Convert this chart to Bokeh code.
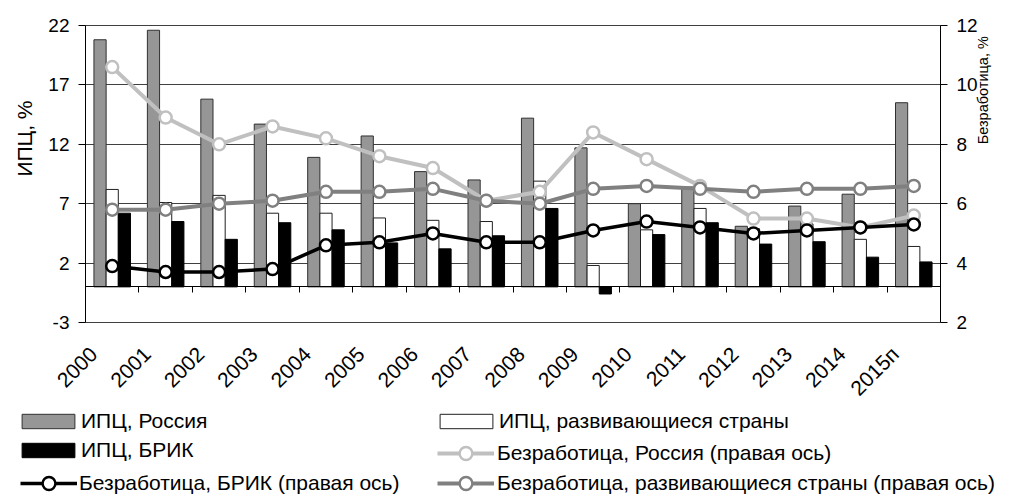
import numpy as np
from math import pi
from bokeh.plotting import figure
from bokeh.models import (ColumnDataSource, LinearAxis, Range1d, FixedTicker,
                          Legend, LegendItem, Title)
from bokeh.transform import dodge
from bokeh.embed import file_html
from bokeh.resources import INLINE

years = ["2000", "2001", "2002", "2003", "2004", "2005", "2006", "2007",
         "2008", "2009", "2010", "2011", "2012", "2013", "2014", "2015п"]

cpi_russia = [20.8, 21.6, 15.8, 13.7, 10.9, 12.7, 9.7, 9.0, 14.2, 11.7, 7.0, 8.4, 5.1, 6.8, 7.8, 15.5]
cpi_developing = [8.2, 7.1, 7.7, 6.2, 6.2, 5.8, 5.6, 5.5, 8.9, 1.8, 4.8, 6.6, 4.9, 5.3, 4.0, 3.4]
cpi_bric = [6.2, 5.5, 4.0, 5.4, 4.8, 3.7, 3.2, 4.3, 6.6, -0.6, 4.4, 5.4, 3.6, 3.8, 2.5, 2.1]

unemp_russia = [10.6, 8.9, 8.0, 8.6, 8.2, 7.6, 7.2, 6.1, 6.4, 8.4, 7.5, 6.6, 5.5, 5.5, 5.2, 5.6]
unemp_bric = [3.9, 3.7, 3.7, 3.8, 4.6, 4.7, 5.0, 4.7, 4.7, 5.1, 5.4, 5.2, 5.0, 5.1, 5.2, 5.3]
unemp_developing = [5.8, 5.8, 6.0, 6.1, 6.4, 6.4, 6.5, 6.1, 6.0, 6.5, 6.6, 6.5, 6.4, 6.5, 6.5, 6.6]

labels = ["ИПЦ, Россия", "ИПЦ, развивающиеся страны", "ИПЦ, БРИК",
          "Безработица, Россия (правая ось)", "Безработица, БРИК (правая ось)",
          "Безработица, развивающиеся страны (правая ось)"]

left_ticks = [-3, 2, 7, 12, 17, 22]
right_ticks = [2, 4, 6, 8, 10, 12]

FONT = "Liberation Sans"
n = len(years)
idx = np.arange(n)

src = ColumnDataSource(dict(x=idx, cr=cpi_russia, cd=cpi_developing, cb=cpi_bric,
                            ur=unemp_russia, ub=unemp_bric, ud=unemp_developing))

CHART_H = 410
chart = figure(width=1009, height=CHART_H, output_backend="svg", toolbar_location=None,
               x_range=Range1d(-0.5, n - 0.5), y_range=Range1d(-3, 22),
               min_border_left=83, min_border_right=69, min_border_top=25,
               min_border_bottom=88)
chart.extra_y_ranges = {"right": Range1d(2, 12)}
chart.outline_line_color = "#404040"
chart.background_fill_color = "white"
chart.border_fill_color = "white"

chart.xgrid.grid_line_color = None
chart.ygrid.grid_line_color = "#404040"
chart.ygrid.grid_line_width = 1


def style_num_axis(ax):
    ax.major_label_text_font = FONT
    ax.major_label_text_font_size = "19px"
    ax.major_label_text_color = "black"
    ax.axis_line_color = "black"
    ax.major_tick_line_color = "black"
    ax.major_tick_out = 7
    ax.major_tick_in = 0
    ax.minor_tick_line_color = None
    ax.major_label_standoff = 9


ya = chart.yaxis[0]
ya.ticker = FixedTicker(ticks=left_ticks)
ya.major_label_overrides = {t: str(t) for t in left_ticks}
style_num_axis(ya)

ra = LinearAxis(y_range_name="right", ticker=FixedTicker(ticks=right_ticks))
style_num_axis(ra)
chart.add_layout(ra, "right")

# left title with its top end placed like the original
chart.add_layout(Title(text="ИПЦ, %", align="right", offset=75, standoff=20,
                       text_font=FONT, text_font_size="21px", text_font_style="normal",
                       text_color="black"), "left")

# right title as a rotated label of a helper axis
RT_POS = 8
rt = LinearAxis(y_range_name="right", ticker=FixedTicker(ticks=[RT_POS]),
                major_label_overrides={RT_POS: "Безработица, %"},
                major_label_orientation=pi / 2,
                major_label_text_font=FONT, major_label_text_font_size="14.5px",
                major_label_text_color="black", major_label_standoff=3,
                major_tick_out=0, major_tick_in=0,
                axis_line_color=None, major_tick_line_color=None,
                minor_tick_line_color=None)
chart.add_layout(rt, "right")

# bottom category labels
LBL_SHIFT = -0.35
lbl_pos = [round(float(i) + LBL_SHIFT, 2) for i in idx]
xa = chart.xaxis[0]
xa.ticker = FixedTicker(ticks=lbl_pos)
xa.major_label_overrides = {pos: y for pos, y in zip(lbl_pos, years)}
xa.major_label_orientation = pi / 4
xa.major_label_text_font = FONT
xa.major_label_text_font_size = "21px"
xa.major_label_text_color = "black"
xa.axis_line_color = None
xa.major_tick_line_color = None
xa.minor_tick_line_color = None
xa.major_tick_out = 0
xa.major_tick_in = 0
xa.major_label_standoff = 28

# zero-line axis with ticks at category boundaries
za = LinearAxis(fixed_location=0, ticker=FixedTicker(ticks=list(idx + 0.5)))
za.axis_line_color = "black"
za.axis_line_width = 1.2
za.major_tick_line_color = "black"
za.major_tick_out = 0
za.major_tick_in = -6
za.minor_tick_line_color = None
za.major_label_text_color = None
za.major_label_text_font_size = "1px"
za.major_label_standoff = 0
chart.add_layout(za, "below")

bw = 0.228
BAR_COLS = ["cr", "cd", "cb"]
LINE_COLS = ["ur", "ub", "ud"]
BAR_STYLES = [dict(fill_color="#969696", line_color="#303030"),
              dict(fill_color="white", line_color="#202020"),
              dict(fill_color="black", line_color="black")]
LINE_STYLES = [dict(color="#c0c0c0", lw=4), dict(color="black", lw=3.5),
               dict(color="#808080", lw=4)]


def draw_series(fig, y_name=None):
    out = []
    for col, off, st in zip(BAR_COLS, [-bw, 0, bw], BAR_STYLES):
        r = fig.vbar(x=dodge("x", off, range=fig.x_range), top=col, bottom=0, width=bw,
                     source=src, line_width=1, **st)
        out.append([r])
    kw = {} if y_name is None else dict(y_range_name=y_name)
    for col, st in zip(LINE_COLS, LINE_STYLES):
        l = fig.line("x", col, source=src, line_color=st["color"], line_width=st["lw"], **kw)
        s = fig.scatter("x", col, source=src, size=12, marker="circle",
                        fill_color="white", line_color=st["color"], line_width=2.5, **kw)
        out.append([l, s])
    return out


draw_series(chart, "right")

# legend strip (its frame spans the full width; the data lie outside its view)
LEG_H = 498 - CHART_H
leg = figure(width=1009, height=LEG_H, output_backend="svg", toolbar_location=None,
             x_range=Range1d(-0.5, n - 0.5), y_range=Range1d(1000, 1001), min_border=0,
             x_axis_type=None, y_axis_type=None)
leg.outline_line_color = None
leg.grid.visible = False
leg_renderers = draw_series(leg)

# (column, row) of each legend entry, in the order of `labels`
slots = [(0, 0), (1, 0), (0, 1), (1, 1), (0, 2), (1, 2)]
row_centers = [74, 45, 15]          # from the bottom of the legend strip
bar_box_x = [15, 433]
line_box_x = [20, 437]

for i, (lab, rends) in enumerate(zip(labels, leg_renderers)):
    c, r = slots[i]
    is_bar = i < 3
    if is_bar:
        gw, gh, so, x0 = 66, 18, -2, bar_box_x[c]
    else:
        gw, gh, so, x0 = 57, 32, 2 + c, line_box_x[c]
    lg = Legend(items=[LegendItem(label=lab, renderers=rends)],
                location=(x0, row_centers[r] - gh // 2),
                label_text_font=FONT, label_text_font_size="21px",
                label_text_color="black", glyph_width=gw, glyph_height=gh,
                label_height=gh, label_width=20, spacing=0, padding=0, margin=0,
                label_standoff=so, border_line_color=None,
                background_fill_alpha=0)
    leg.add_layout(lg, "center")

p = [chart, leg]
open("out.html", "w").write(file_html(p, INLINE))
